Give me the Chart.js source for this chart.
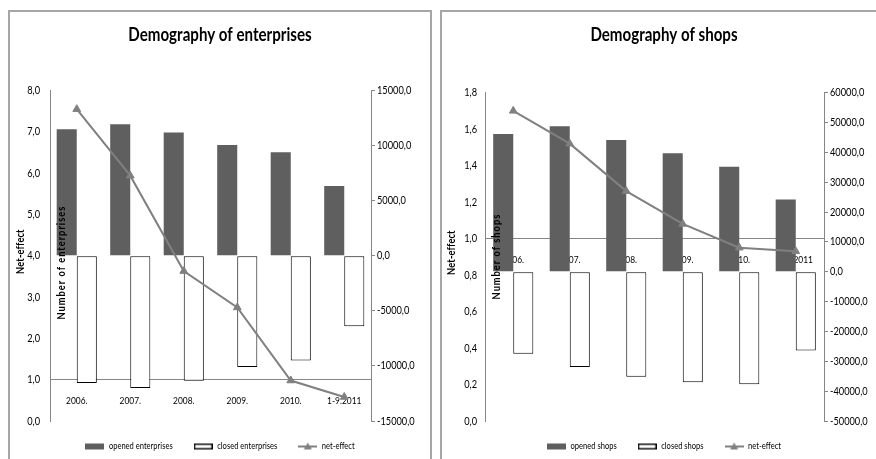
<!DOCTYPE html>
<html>
<head>
<meta charset="utf-8">
<script src="https://cdn.jsdelivr.net/npm/chart.js@4.4.0/dist/chart.umd.min.js"></script>
<style>
  html, body { margin: 0; padding: 0; background: #fff; overflow: hidden; width: 876px; height: 459px; }
  .panel { position: absolute; top: 10px; height: 470px; border: 2px solid #a6a6a6; overflow: hidden; background: #fff; }
  #leftPanel { left: 8px; width: 420px; }
  #rightPanel { left: 440px; width: 444px; }
  canvas { display: block; }
</style>
</head>
<body>
<div class="panel" id="leftPanel"><canvas id="enterprisesChart" width="420" height="460"></canvas></div>
<div class="panel" id="rightPanel"><canvas id="shopsChart" width="444" height="460"></canvas></div>
<script>
// categories
const years = ['2006.', '2007.', '2008.', '2009.', '2010.', '1-9.2011'];

// enterprises (bars on right axis, net-effect line on left axis)
const openedEnterprises = [11500, 11950, 11200, 10050, 9400, 6330];
const closedEnterprises = [-11550, -12000, -11350, -10100, -9500, -6400];
const netEffectEnterprises = [7.55, 5.94, 3.63, 2.75, 0.98, 0.58];

// shops
const openedShops = [46100, 48700, 44100, 39700, 35200, 24200];
const closedShops = [-27500, -31950, -35200, -37000, -37700, -26350];
const netEffectShops = [1.70, 1.52, 1.26, 1.08, 0.95, 0.93];

const FONT = "Lato, 'DejaVu Sans', sans-serif";
const DARK = '#5f5f5f';
const LINE = '#808080';
const AXIS = '#868686';

// no narrow font installed: squeeze text horizontally to get the condensed excel look
const SQUEEZE = 0.84;
const proto = CanvasRenderingContext2D.prototype;
const origFillText = proto.fillText;
const origMeasureText = proto.measureText;
proto.fillText = function (text, x, y, maxWidth) {
    this.save();
    this.translate(x, y);
    this.scale(SQUEEZE, 1);
    if (maxWidth === undefined) {
        origFillText.call(this, text, 0, 0);
    } else {
        origFillText.call(this, text, 0, 0, maxWidth / SQUEEZE);
    }
    this.restore();
};
proto.measureText = function (text) {
    const m = origMeasureText.call(this, text);
    return {
        width: m.width * SQUEEZE,
        actualBoundingBoxLeft: m.actualBoundingBoxLeft * SQUEEZE,
        actualBoundingBoxRight: m.actualBoundingBoxRight * SQUEEZE,
        actualBoundingBoxAscent: m.actualBoundingBoxAscent,
        actualBoundingBoxDescent: m.actualBoundingBoxDescent,
        fontBoundingBoxAscent: m.fontBoundingBoxAscent,
        fontBoundingBoxDescent: m.fontBoundingBoxDescent
    };
};

Chart.defaults.font.family = FONT;
Chart.defaults.color = '#000';

const fmt = v => Number(v).toFixed(1).replace('.', ',');

function makeIcon(kind) {
    const c = document.createElement('canvas');
    c.width = 19;
    c.height = 10;
    const g = c.getContext('2d');
    if (kind === 'opened') {
        g.fillStyle = DARK;
        g.fillRect(0, 2, 19, 6);
    } else if (kind === 'closed') {
        g.fillStyle = '#fff';
        g.fillRect(0, 2, 19, 6);
        g.strokeStyle = '#000';
        g.lineWidth = 1.4;
        g.strokeRect(0.7, 2.7, 17.6, 4.6);
    } else {
        g.strokeStyle = LINE;
        g.lineWidth = 2;
        g.beginPath();
        g.moveTo(0, 5);
        g.lineTo(19, 5);
        g.stroke();
        g.fillStyle = LINE;
        g.beginPath();
        g.moveTo(9.5, 1);
        g.lineTo(13.5, 8);
        g.lineTo(5.5, 8);
        g.closePath();
        g.fill();
    }
    return c;
}
const icons = [makeIcon('opened'), makeIcon('closed'), makeIcon('line')];

// rotated axis titles drawn over the plot like in the excel original
const axisTitles = {
    id: 'axisTitles',
    afterDatasetsDraw(chart, args, opts) {
        const {ctx, chartArea} = chart;
        (opts.items || []).forEach(item => {
            ctx.save();
            ctx.font = 'bold 11px ' + FONT;
            ctx.letterSpacing = item.spacing + 'px';
            ctx.fillStyle = '#000';
            ctx.textAlign = 'center';
            ctx.textBaseline = 'middle';
            ctx.translate(chartArea.left + item.dx, chartArea.top + item.dy);
            ctx.rotate(-Math.PI / 2);
            ctx.fillText(item.text, 0, 0);
            ctx.restore();
        });
    }
};

function buildChart(canvasId, cfg) {
    return new Chart(document.getElementById(canvasId), {
        type: 'bar',
        data: {
            labels: years,
            datasets: [{
                type: 'bar',
                label: cfg.openedLabel,
                data: cfg.opened,
                backgroundColor: DARK,
                yAxisID: 'y1',
                order: 2,
                barPercentage: 1,
                categoryPercentage: cfg.catPct
            }, {
                type: 'bar',
                label: cfg.closedLabel,
                data: cfg.closed,
                backgroundColor: '#fff',
                borderColor: '#000',
                borderWidth: 1,
                borderSkipped: false,
                yAxisID: 'y1',
                order: 2,
                barPercentage: 1,
                categoryPercentage: cfg.catPct
            }, {
                type: 'line',
                label: 'net-effect',
                data: cfg.net,
                borderColor: LINE,
                backgroundColor: LINE,
                borderWidth: 2,
                pointStyle: 'triangle',
                pointRadius: 4.5,
                pointBorderWidth: 1,
                tension: 0,
                yAxisID: 'y',
                order: 1
            }]
        },
        options: {
            responsive: false,
            animation: false,
            layout: { padding: { top: 0, left: 0, right: 0, bottom: 11 } },
            plugins: {
                title: {
                    display: true,
                    text: cfg.title,
                    color: '#000',
                    font: { size: 18, weight: 'bold' },
                    padding: { top: 12, bottom: cfg.titleGap }
                },
                legend: {
                    position: 'bottom',
                    labels: {
                        usePointStyle: true,
                        pointStyleWidth: 19,
                        padding: 21,
                        color: '#000',
                        font: { size: 9 },
                        generateLabels: chart => chart.data.datasets.map((ds, i) => ({
                            text: ds.label,
                            pointStyle: icons[i],
                            datasetIndex: i,
                            hidden: false,
                            lineWidth: 0
                        }))
                    }
                },
                tooltip: { enabled: false },
                axisTitles: { items: cfg.axisTitles }
            },
            scales: {
                x: {
                    type: 'category',
                    position: { y: 1 },
                    offset: true,
                    z: 1,
                    grid: { display: false },
                    border: { display: true, color: AXIS },
                    ticks: { padding: 7, color: '#000', font: { size: 10 }, maxRotation: 0, autoSkip: false }
                },
                y: {
                    position: 'left',
                    min: 0,
                    max: cfg.leftMax,
                    grid: { display: false },
                    border: { display: true, color: AXIS },
                    ticks: { stepSize: cfg.leftStep, padding: cfg.leftPad, color: '#000', font: { size: 11 }, callback: fmt },
                    afterFit: s => { s.width = cfg.leftWidth; }
                },
                y1: {
                    position: 'right',
                    min: cfg.rightMin,
                    max: cfg.rightMax,
                    grid: { drawOnChartArea: false, drawTicks: true, tickLength: 4, color: AXIS },
                    border: { display: true, color: AXIS },
                    ticks: { stepSize: cfg.rightStep, padding: 2, color: '#000', font: { size: 11 }, callback: fmt },
                    afterFit: s => { s.width = cfg.rightWidth; }
                }
            }
        },
        plugins: [axisTitles]
    });
}

buildChart('enterprisesChart', {
    title: 'Demography of enterprises',
    openedLabel: 'opened enterprises',
    closedLabel: 'closed enterprises',
    opened: openedEnterprises,
    closed: closedEnterprises,
    net: netEffectEnterprises,
    catPct: 0.75,
    titleGap: 45,
    leftMax: 8, leftStep: 1, leftWidth: 40, leftPad: 2,
    rightMin: -15000, rightMax: 15000, rightStep: 5000, rightWidth: 59,
    axisTitles: [
        { text: 'Net-effect', dx: -30, dy: 161, spacing: 0.2 },
        { text: 'Number of enterprises', dx: 11, dy: 172, spacing: 1.2 }
    ]
});

buildChart('shopsChart', {
    title: 'Demography of shops',
    openedLabel: 'opened shops',
    closedLabel: 'closed shops',
    opened: openedShops,
    closed: closedShops,
    net: netEffectShops,
    catPct: 0.71,
    titleGap: 47,
    leftMax: 1.8, leftStep: 0.2, leftWidth: 43, leftPad: 0,
    rightMin: -50000, rightMax: 60000, rightStep: 10000, rightWidth: 62,
    axisTitles: [
        { text: 'Net-effect', dx: -34, dy: 160, spacing: 0.2 },
        { text: 'Number of shops', dx: 11, dy: 164, spacing: 1.2 }
    ]
});
</script>
</body>
</html>
